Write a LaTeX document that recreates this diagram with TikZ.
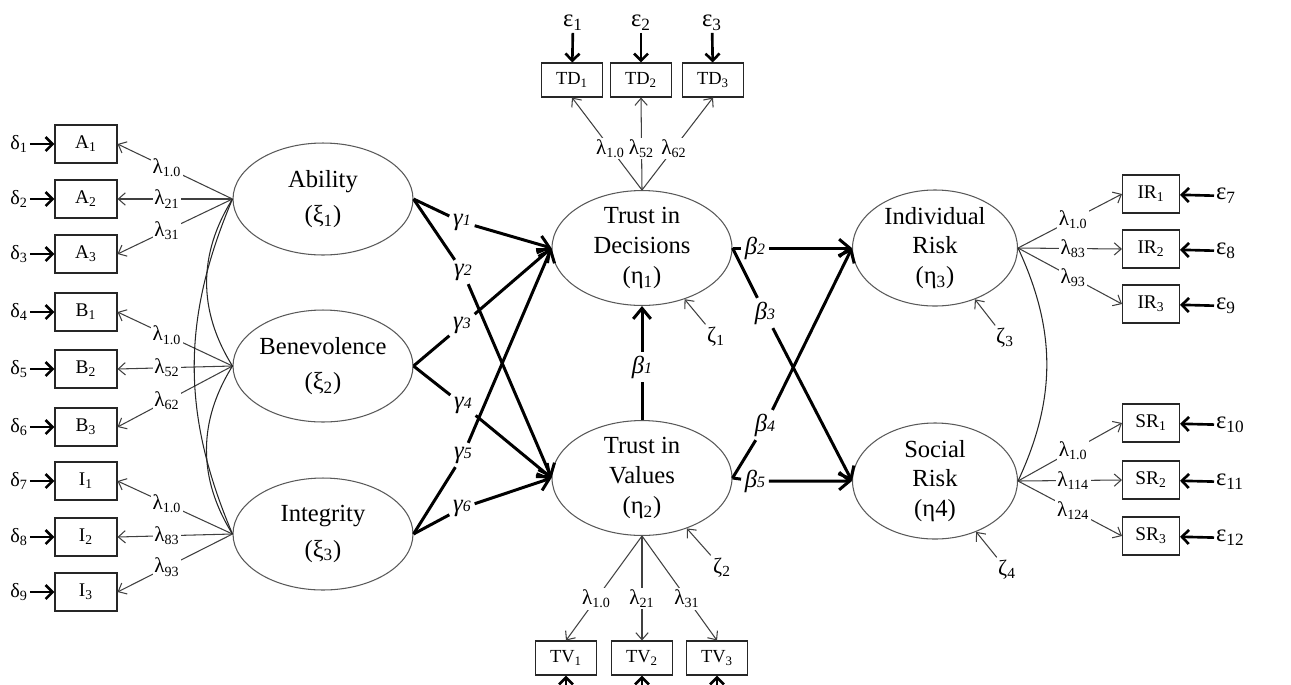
\documentclass[tikz,border=0pt]{standalone}
\usepackage{fontspec}
\setmainfont{Liberation Serif}
\usetikzlibrary{
    positioning,     % relative placement
    arrows.meta,     % Straight Barb tips
    shapes.geometric % ellipse nodes
}

\begin{document}
\begin{tikzpicture}[x=0.02cm, y=-0.02cm,
    latent/.style={ellipse, draw=black!65, line width=0.6pt, minimum width=3.6cm, minimum height=2.24cm, inner sep=0pt, align=center, font=\fontsize{14}{17}\selectfont},
    indbox/.style={rectangle, draw=black!85, line width=0.6pt, minimum width=1.24cm, minimum height=0.76cm, inner sep=0pt, font=\fontsize{11}{13}\selectfont},
    smallbox/.style={indbox, minimum width=1.22cm, minimum height=0.68cm, font=\fontsize{10.5}{12}\selectfont},
    lam/.style={fill=white, inner sep=1pt, font=\fontsize{12}{14}\selectfont},
    coef/.style={fill=white, inner sep=2pt, font=\fontsize{14}{16}\selectfont\itshape},
    errlab/.style={inner sep=1pt, font=\fontsize{11.5}{13}\selectfont},
    epslab/.style={inner sep=1pt, font=\fontsize{14}{16}\selectfont},
    zetalab/.style={inner sep=1.5pt, font=\fontsize{12.5}{14}\selectfont},
    loadarrow/.style={draw=black!75, line width=0.6pt, -{Straight Barb[length=4pt,width=7pt]}},
    cov/.style={draw=black!85, line width=0.6pt},
    structural/.style={line width=1.7pt, -{Straight Barb[length=6pt,width=10pt]}},
    errarrow/.style={line width=1.5pt, -{Straight Barb[length=4pt,width=8pt]}}
]
    \useasboundingbox (0,0) rectangle (1291,684);

    % Exogenous latent variables
    \node[latent] (Ab) at (323,199) {Ability\\[3pt](ξ\textsubscript{1})};
    \node[latent] (Be) at (323,366) {Benevolence\\[3pt](ξ\textsubscript{2})};
    \node[latent] (In) at (323,534) {Integrity\\[3pt](ξ\textsubscript{3})};

    % Endogenous latent variables
    \node[latent] (TiD) at (642,248) {Trust in\\Decisions\\(η\textsubscript{1})};
    \node[latent] (TiV) at (642,478) {Trust in\\Values\\(η\textsubscript{2})};
    \node[latent, minimum width=3.3cm, minimum height=2.26cm] (IR) at (935,248) {Individual\\Risk\\(η\textsubscript{3})};
    \node[latent, minimum width=3.3cm, minimum height=2.26cm] (SR) at (935,481) {Social\\Risk\\(η4)};

    % Indicators on the left
    \node[indbox] (A1) at (86,144) {A\textsubscript{1}};
    \node[indbox] (A2) at (86,199) {A\textsubscript{2}};
    \node[indbox] (A3) at (86,254) {A\textsubscript{3}};
    \node[indbox] (B1) at (86,312) {B\textsubscript{1}};
    \node[indbox] (B2) at (86,369) {B\textsubscript{2}};
    \node[indbox] (B3) at (86,427) {B\textsubscript{3}};
    \node[indbox] (I1) at (86,481) {I\textsubscript{1}};
    \node[indbox] (I2) at (86,537) {I\textsubscript{2}};
    \node[indbox] (I3) at (86,592) {I\textsubscript{3}};

    % Indicators above and below
    \node[smallbox] (TD1) at (572,80) {TD\textsubscript{1}};
    \node[smallbox] (TD2) at (641,80) {TD\textsubscript{2}};
    \node[smallbox] (TD3) at (713,80) {TD\textsubscript{3}};
    \node[smallbox] (TV1) at (566,658) {TV\textsubscript{1}};
    \node[smallbox] (TV2) at (642,658) {TV\textsubscript{2}};
    \node[smallbox] (TV3) at (717,658) {TV\textsubscript{3}};

    % Indicators on the right
    \node[indbox, minimum width=1.14cm] (IR1) at (1151,194) {IR\textsubscript{1}};
    \node[indbox, minimum width=1.14cm] (IR2) at (1151,249) {IR\textsubscript{2}};
    \node[indbox, minimum width=1.14cm] (IR3) at (1151,304) {IR\textsubscript{3}};
    \node[indbox, minimum width=1.14cm] (SR1) at (1151,423) {SR\textsubscript{1}};
    \node[indbox, minimum width=1.14cm] (SR2) at (1151,480) {SR\textsubscript{2}};
    \node[indbox, minimum width=1.14cm] (SR3) at (1151,536) {SR\textsubscript{3}};

    % Measurement errors
    \node[errlab] (d1) at (19,144) {δ\textsubscript{1}};
    \node[errlab] (d2) at (19,199) {δ\textsubscript{2}};
    \node[errlab] (d3) at (19,254) {δ\textsubscript{3}};
    \node[errlab] (d4) at (19,312) {δ\textsubscript{4}};
    \node[errlab] (d5) at (19,369) {δ\textsubscript{5}};
    \node[errlab] (d6) at (19,427) {δ\textsubscript{6}};
    \node[errlab] (d7) at (19,481) {δ\textsubscript{7}};
    \node[errlab] (d8) at (19,537) {δ\textsubscript{8}};
    \node[errlab] (d9) at (19,592) {δ\textsubscript{9}};
    \foreach \d/\b in {d1/A1, d2/A2, d3/A3, d4/B1, d5/B2, d6/B3, d7/I1, d8/I2, d9/I3}
        \draw[errarrow] (\d) -- (\b);

    \node[epslab] (e1) at (573,23) {ε\textsubscript{1}};
    \node[epslab] (e2) at (641,23) {ε\textsubscript{2}};
    \node[epslab] (e3) at (712,23) {ε\textsubscript{3}};
    \draw[errarrow] (e1) -- (TD1);
    \draw[errarrow] (e2) -- (TD2);
    \draw[errarrow] (e3) -- (TD3);

    \node[epslab, anchor=west] (e7) at (1214,196) {ε\textsubscript{7}};
    \node[epslab, anchor=west] (e8) at (1214,251) {ε\textsubscript{8}};
    \node[epslab, anchor=west] (e9) at (1214,306) {ε\textsubscript{9}};
    \node[epslab, anchor=west] (e10) at (1214,425) {ε\textsubscript{10}};
    \node[epslab, anchor=west] (e11) at (1214,482) {ε\textsubscript{11}};
    \node[epslab, anchor=west] (e12) at (1214,538) {ε\textsubscript{12}};
    \foreach \e/\b in {e7/IR1, e8/IR2, e9/IR3, e10/SR1, e11/SR2, e12/SR3}
        \draw[errarrow] (\e) -- (\b);

    % errors of TV indicators (cut off below)
    \coordinate (tv1err) at (566,730);
    \coordinate (tv2err) at (642,730);
    \coordinate (tv3err) at (717,730);
    \draw[errarrow] (tv1err) -- (TV1);
    \draw[errarrow] (tv2err) -- (TV2);
    \draw[errarrow] (tv3err) -- (TV3);

    % Loadings
    \draw[loadarrow] (Ab.west) -- node[lam, pos=.57] {λ\textsubscript{1.0}} (A1.east);
    \draw[loadarrow] (Ab.west) -- node[lam, pos=.57] {λ\textsubscript{21}} (A2.east);
    \draw[loadarrow] (Ab.west) -- node[lam, pos=.57] {λ\textsubscript{31}} (A3.east);
    \draw[loadarrow] (Be.west) -- node[lam, pos=.57] {λ\textsubscript{1.0}} (B1.east);
    \draw[loadarrow] (Be.west) -- node[lam, pos=.57] {λ\textsubscript{52}} (B2.east);
    \draw[loadarrow] (Be.west) -- node[lam, pos=.57] {λ\textsubscript{62}} (B3.east);
    \draw[loadarrow] (In.west) -- node[lam, pos=.57] {λ\textsubscript{1.0}} (I1.east);
    \draw[loadarrow] (In.west) -- node[lam, pos=.57] {λ\textsubscript{83}} (I2.east);
    \draw[loadarrow] (In.west) -- node[lam, pos=.57] {λ\textsubscript{93}} (I3.east);

    \draw[loadarrow] (TiD.north) -- node[lam, pos=.45] {λ\textsubscript{1.0}} (TD1.south);
    \draw[loadarrow] (TiD.north) -- node[lam, pos=.45] {λ\textsubscript{52}} (TD2.south);
    \draw[loadarrow] (TiD.north) -- node[lam, pos=.45] {λ\textsubscript{62}} (TD3.south);
    \draw[loadarrow] (TiV.south) -- node[lam, pos=.6] {λ\textsubscript{1.0}} (TV1.north);
    \draw[loadarrow] (TiV.south) -- node[lam, pos=.6] {λ\textsubscript{21}} (TV2.north);
    \draw[loadarrow] (TiV.south) -- node[lam, pos=.6] {λ\textsubscript{31}} (TV3.north);

    \draw[loadarrow] (IR.east) -- node[lam, pos=.53] {λ\textsubscript{1.0}} (IR1.west);
    \draw[loadarrow] (IR.east) -- node[lam, pos=.53] {λ\textsubscript{83}} (IR2.west);
    \draw[loadarrow] (IR.east) -- node[lam, pos=.53] {λ\textsubscript{93}} (IR3.west);
    \draw[loadarrow] (SR.east) -- node[lam, pos=.53] {λ\textsubscript{1.0}} (SR1.west);
    \draw[loadarrow] (SR.east) -- node[lam, pos=.53] {λ\textsubscript{114}} (SR2.west);
    \draw[loadarrow] (SR.east) -- node[lam, pos=.53] {λ\textsubscript{124}} (SR3.west);

    % Covariances
    \draw[cov] (Ab.west) to[bend right=32] (Be.west);
    \draw[cov] (Be.west) to[bend right=32] (In.west);
    \draw[cov] (Ab.west) to[bend right=23] (In.west);
    \draw[cov] (IR.east) to[bend left=25] (SR.east);

    % Structural paths
    \node[coef] (g1) at (462,222) {γ{\fontsize{9}{9}\selectfont 1}};
    \node[coef] (g2) at (463,272) {γ{\fontsize{9}{9}\selectfont 2}};
    \node[coef] (g3) at (462,325) {γ{\fontsize{9}{9}\selectfont 3}};
    \node[coef] (g4) at (463,405) {γ{\fontsize{9}{9}\selectfont 4}};
    \node[coef] (g5) at (463,455) {γ{\fontsize{9}{9}\selectfont 5}};
    \node[coef] (g6) at (462,508) {γ{\fontsize{9}{9}\selectfont 6}};
    \draw[structural] (Ab.east) -- (g1) -- (TiD.west);
    \draw[structural] (Ab.east) -- (g2) -- (TiV.west);
    \draw[structural] (Be.east) -- (g3) -- (TiD.west);
    \draw[structural] (Be.east) -- (g4) -- (TiV.west);
    \draw[structural] (In.east) -- (g5) -- (TiD.west);
    \draw[structural] (In.east) -- (g6) -- (TiV.west);

    \node[coef] (b1) at (642,367) {β{\fontsize{9}{9}\selectfont 1}};
    \node[coef] (b2) at (755,248) {β{\fontsize{9}{9}\selectfont 2}};
    \node[coef] (b3) at (765,313) {β{\fontsize{9}{9}\selectfont 3}};
    \node[coef] (b4) at (765,425) {β{\fontsize{9}{9}\selectfont 4}};
    \node[coef] (b5) at (755,481) {β{\fontsize{9}{9}\selectfont 5}};
    \draw[structural] (TiV.north) -- (b1) -- (TiD.south);
    \draw[structural] (TiD.east) -- (b2) -- (IR.west);
    \draw[structural] (TiD.east) -- (b3) -- (SR.west);
    \draw[structural] (TiV.east) -- (b4) -- (IR.west);
    \draw[structural] (TiV.east) -- (b5) -- (SR.west);

    % Disturbances
    \node[zetalab] (z1) at (716,337) {ζ\textsubscript{1}};
    \node[zetalab] (z2) at (722,568) {ζ\textsubscript{2}};
    \node[zetalab] (z3) at (1005,338) {ζ\textsubscript{3}};
    \node[zetalab] (z4) at (1007,570) {ζ\textsubscript{4}};
    \draw[loadarrow] (z1) -- (TiD);
    \draw[loadarrow] (z2) -- (TiV);
    \draw[loadarrow] (z3) -- (IR);
    \draw[loadarrow] (z4) -- (SR);
\end{tikzpicture}
\end{document}
